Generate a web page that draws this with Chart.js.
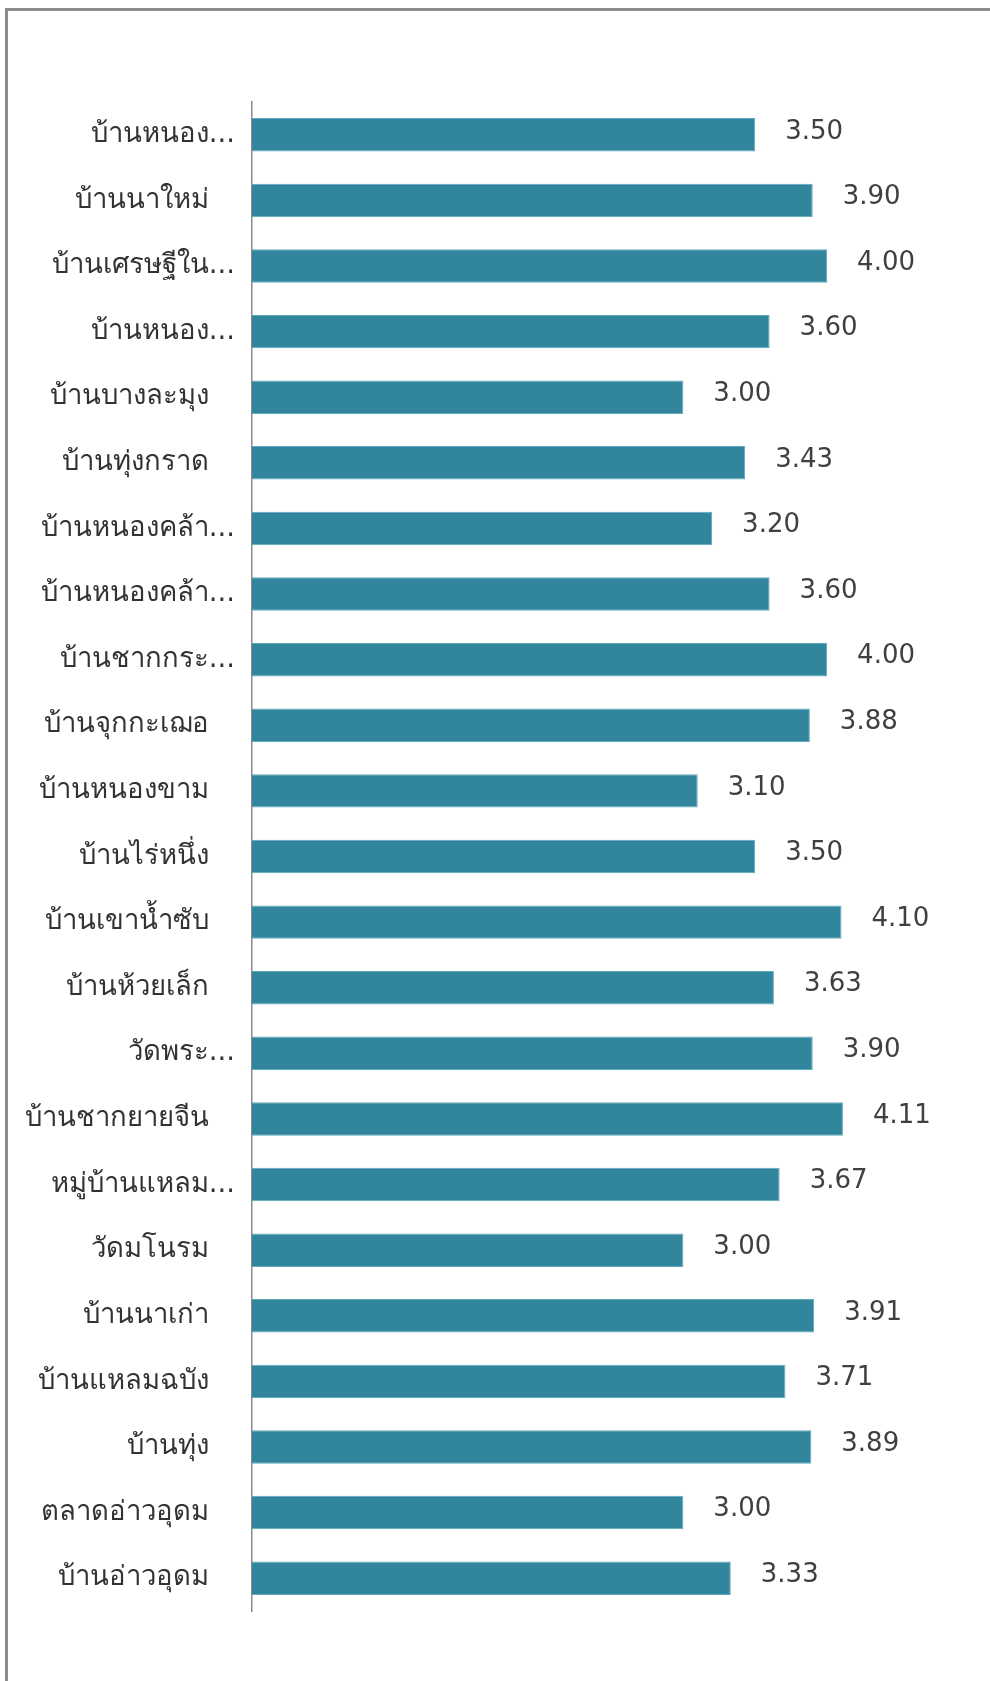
<!DOCTYPE html>
<html>
<head>
<meta charset="utf-8">
<script src="https://cdn.jsdelivr.net/npm/chart.js@4.4.0/dist/chart.umd.min.js"></script>
<style>
  html, body { margin: 0; padding: 0; background: #fff; }
  #wrap { position: relative; width: 990px; height: 1681px; }
  #frame { position: absolute; left: 5px; top: 8px; right: -10px; bottom: -10px; border-left: 3px solid #8c8c8c; border-top: 3px solid #8c8c8c; }
  canvas { position: absolute; left: 0; top: 0; }
</style>
</head>
<body>
<div id="wrap">
  <div id="frame"></div>
  <canvas id="myChart" width="990" height="1681"></canvas>
</div>
<script>
const hamlets = [
  "บ้านหนอง...", "บ้านนาใหม่", "บ้านเศรษฐีใน...", "บ้านหนอง...", "บ้านบางละมุง",
  "บ้านทุ่งกราด", "บ้านหนองคล้า...", "บ้านหนองคล้า...", "บ้านชากกระ...", "บ้านจุกกะเฌอ",
  "บ้านหนองขาม", "บ้านไร่หนึ่ง", "บ้านเขาน้ำซับ", "บ้านห้วยเล็ก", "วัดพระ...",
  "บ้านชากยายจีน", "หมู่บ้านแหลม...", "วัดมโนรม", "บ้านนาเก่า", "บ้านแหลมฉบัง",
  "บ้านทุ่ง", "ตลาดอ่าวอุดม", "บ้านอ่าวอุดม"
];
const scores = [
  3.50, 3.90, 4.00, 3.60, 3.00,
  3.43, 3.20, 3.60, 4.00, 3.88,
  3.10, 3.50, 4.10, 3.63, 3.90,
  4.11, 3.67, 3.00, 3.91, 3.71,
  3.89, 3.00, 3.33
];

const textColor = "#404040";
const barColor = "#31859c";

// value labels to the right of each bar
const etiquetas = {
  id: "etiquetas",
  afterDatasetsDraw(chart) {
    const ctx = chart.ctx;
    const meta = chart.getDatasetMeta(0);
    ctx.save();
    ctx.font = "26px 'DejaVu Sans', Verdana, sans-serif";
    ctx.fillStyle = textColor;
    ctx.textAlign = "left";
    ctx.textBaseline = "middle";
    meta.data.forEach((bar, i) => {
      ctx.fillText(scores[i].toFixed(2), bar.x + 30, bar.y - 3);
    });
    ctx.restore();
  }
};

const canvas = document.getElementById("myChart");
new Chart(canvas, {
  type: "bar",
  data: {
    labels: hamlets,
    datasets: [{
      data: scores,
      backgroundColor: barColor,
      borderColor: "#5fa9be",
      borderWidth: 1,
      categoryPercentage: 1,
      barPercentage: 0.51
    }]
  },
  options: {
    indexAxis: "y",
    responsive: false,
    animation: false,
    layout: { padding: { top: 102, bottom: 70, right: 91, left: 0 } },
    plugins: { legend: { display: false }, tooltip: { enabled: false } },
    scales: {
      x: { display: false, min: 0, max: 4.5 },
      y: {
        grid: { display: false },
        border: { display: true, color: "#8a8a8a", width: 1.5 },
        ticks: {
          padding: 9,
          color: "#333333",
          font: { size: 27.5, family: "Tahoma, 'DejaVu Sans', sans-serif" },
          callback: function (v, i) {
            const t = hamlets[i];
            return t.endsWith("...") ? t : t + "\u00a0\u00a0\u00a0";
          }
        },
        afterFit: (scale) => { scale.width = 252; }
      }
    }
  },
  plugins: [etiquetas]
});
</script>
</body>
</html>
